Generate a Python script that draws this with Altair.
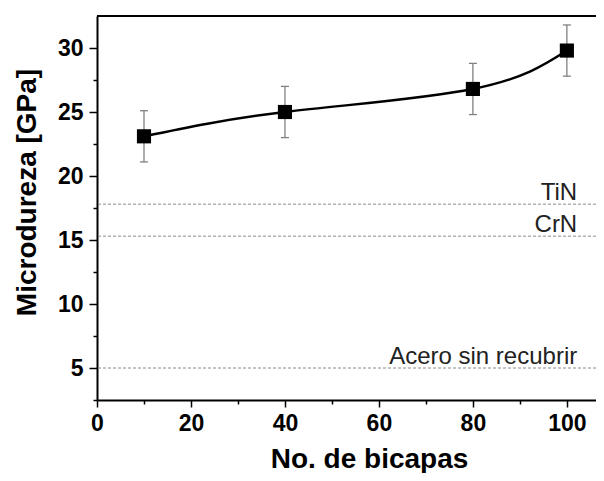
import altair as alt
import pandas as pd

# ---- data ----
bicapas = [10, 40, 80, 100]
dureza = [23.1, 25.0, 26.8, 29.8]
error = [2.0, 2.0, 2.0, 2.0]
ref_names = ["TiN", "CrN", "Acero sin recubrir"]
ref_values = [17.8, 15.3, 5.0]
x_major = [0, 20, 40, 60, 80, 100]
x_minor = [10, 30, 50, 70, 90]
y_major = [5, 10, 15, 20, 25, 30]
y_minor = [2.5, 7.5, 12.5, 17.5, 22.5, 27.5]

df = pd.DataFrame({"n": bicapas, "h": dureza, "e": error})
df["lo"] = df["h"] - df["e"]
df["hi"] = df["h"] + df["e"]
refs = pd.DataFrame({"name": ref_names, "v": ref_values})

W, H = 499, 384
FONT = "Liberation Sans"

xscale = alt.Scale(domain=[0, 106.2], nice=False, zero=False)
yscale = alt.Scale(domain=[2.5, 32.5], nice=False, zero=False)

x_axis = alt.Axis(values=x_major, title="No. de bicapas", orient="bottom", grid=False,
                  tickSize=7, tickWidth=1.5, tickColor="black", domainWidth=2, domainColor="black",
                  labelFont=FONT, labelFontSize=23, labelFontWeight="bold", labelColor="black",
                  labelPadding=5, labelFlush=False, format="d",
                  titleFont=FONT, titleFontSize=28, titleFontWeight="bold", titleColor="black",
                  titlePadding=10, titleX=272)
y_axis = alt.Axis(values=y_major, title="Microdureza [GPa]", orient="left", grid=False,
                  tickSize=8, tickWidth=1.5, tickColor="black", domainWidth=2, domainColor="black",
                  labelFont=FONT, labelFontSize=23, labelFontWeight="bold", labelColor="black",
                  labelPadding=6, labelFlush=False, format="d",
                  titleFont=FONT, titleFontSize=28, titleFontWeight="bold", titleColor="black",
                  titlePadding=16, titleY=176)
x_minor_axis = alt.Axis(values=x_minor, title="", orient="bottom", grid=False, labels=False,
                        domain=False, tickSize=4, tickWidth=1.5, tickColor="black")
y_minor_axis = alt.Axis(values=y_minor, title="", orient="left", grid=False, labels=False,
                        domain=False, tickSize=4, tickWidth=1.5, tickColor="black")

base = alt.Chart(df)

line = base.mark_line(color="black", strokeWidth=2.5, interpolate="natural").encode(
    x=alt.X("n:Q", scale=xscale, axis=x_axis),
    y=alt.Y("h:Q", scale=yscale, axis=y_axis),
)

minor = base.mark_point(opacity=0).encode(
    x=alt.X("n:Q", scale=xscale, axis=x_minor_axis),
    y=alt.Y("h:Q", scale=yscale, axis=y_minor_axis),
)

bars = base.mark_rule(color="#808080", strokeWidth=1.3).encode(
    x=alt.X("n:Q", scale=xscale, axis=None),
    y=alt.Y("lo:Q", scale=yscale, axis=None),
    y2="hi:Q",
)
cap_hi = base.mark_rule(color="#808080", strokeWidth=1.3, xOffset=-4, x2Offset=4).encode(
    x=alt.X("n:Q", scale=xscale, axis=None),
    x2="n:Q",
    y=alt.Y("hi:Q", scale=yscale, axis=None),
)
cap_lo = base.mark_rule(color="#808080", strokeWidth=1.3, xOffset=-4, x2Offset=4).encode(
    x=alt.X("n:Q", scale=xscale, axis=None),
    x2="n:Q",
    y=alt.Y("lo:Q", scale=yscale, axis=None),
)

points = base.mark_point(shape="square", filled=True, color="black", size=200, opacity=1).encode(
    x=alt.X("n:Q", scale=xscale, axis=None),
    y=alt.Y("h:Q", scale=yscale, axis=None),
)

ref_lines = alt.Chart(refs).mark_rule(color="#8a8a8a", strokeWidth=1, strokeDash=[3, 2]).encode(
    y=alt.Y("v:Q", scale=yscale, axis=None),
)
ref_text = alt.Chart(refs).mark_text(font=FONT, fontSize=24, color="#222222", align="right",
                                     baseline="alphabetic", dy=-4).encode(
    x=alt.datum(102.2, scale=xscale, axis=None),
    y=alt.Y("v:Q", scale=yscale, axis=None),
    text="name:N",
)

top_border = alt.Chart(df).mark_rule(color="black", strokeWidth=2).encode(
    x=alt.value(0), x2=alt.value(W), y=alt.value(0)
)

chart = alt.layer(
    ref_lines, ref_text, bars, cap_hi, cap_lo, line, points, minor, top_border
).resolve_axis(x="independent", y="independent").properties(
    width=W, height=H,
    autosize=alt.AutoSizeParams(type="none"),
    padding={"left": 89, "top": 8, "right": 0, "bottom": 73},
    background="white",
).configure_view(stroke=None)

chart.save("out.html", embed_options={"renderer": "svg", "actions": False})
